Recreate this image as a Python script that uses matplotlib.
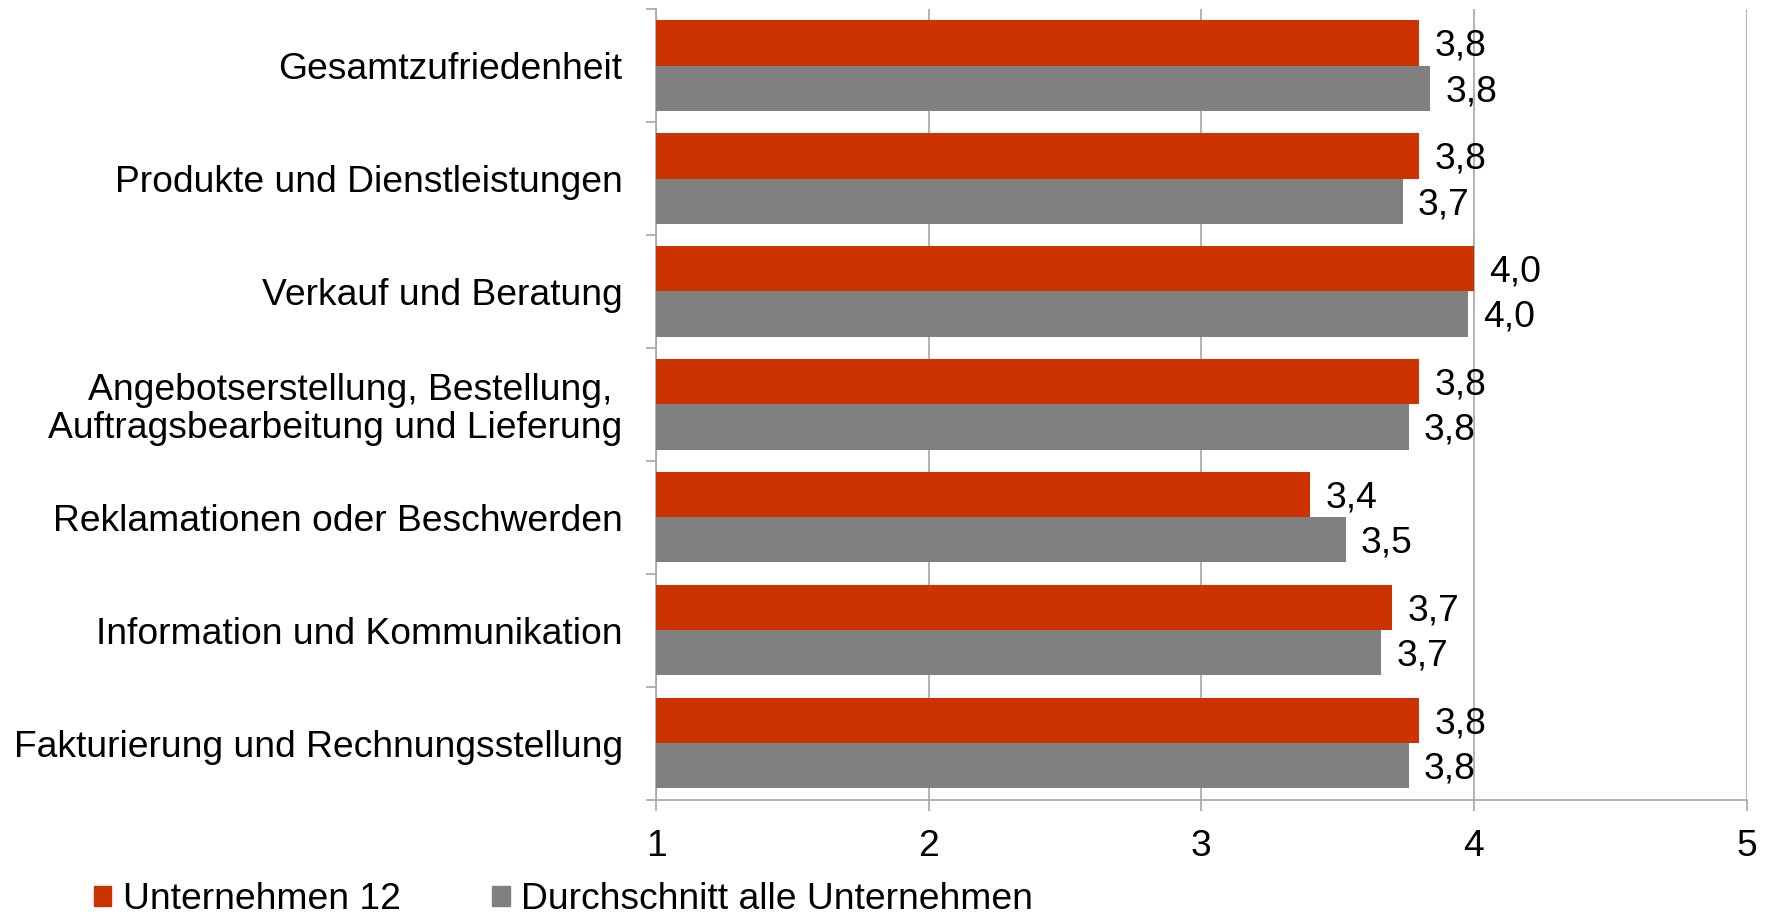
import matplotlib.pyplot as plt
import numpy as np
from matplotlib.patches import Patch

plt.rcParams['font.family'] = ['Liberation Sans', 'DejaVu Sans']

kategorien = [
    "Gesamtzufriedenheit",
    "Produkte und Dienstleistungen",
    "Verkauf und Beratung",
    "Angebotserstellung, Bestellung, \nAuftragsbearbeitung und Lieferung",
    "Reklamationen oder Beschwerden",
    "Information und Kommunikation",
    "Fakturierung und Rechnungsstellung",
]
unternehmen = [3.80, 3.80, 4.00, 3.80, 3.40, 3.70, 3.80]
durchschnitt = [3.84, 3.74, 3.98, 3.76, 3.53, 3.66, 3.76]

ROT = "#CC3300"
GRAU = "#808080"
LINIE = "#A6A6A6"
FS = 26.8

fig = plt.figure(figsize=(17.66, 9.19), dpi=100)
ax = fig.add_axes([0.3715, 0.13, 0.6175, 0.86])

y = np.arange(len(kategorien))
h = 0.4
ax.barh(y - h / 2, np.array(unternehmen) - 1, h, left=1, color=ROT, zorder=3)
ax.barh(y + h / 2, np.array(durchschnitt) - 1, h, left=1, color=GRAU, zorder=3)

# Werte neben den Balken
for i, (u, d) in enumerate(zip(unternehmen, durchschnitt)):
    ax.text(u + 0.055, i - h / 2 + 0.03, f"{u:.1f}".replace(".", ","),
            va="center", ha="left", fontsize=FS, zorder=4)
    ax.text(d + 0.055, i + h / 2 + 0.03, f"{d:.1f}".replace(".", ","),
            va="center", ha="left", fontsize=FS, zorder=4)

ax.set_xlim(1, 5)
ax.set_ylim(len(kategorien) - 0.5, -0.5)
ax.set_xticks([1, 2, 3, 4, 5])
ax.tick_params(axis="x", length=8, width=1.2, color=LINIE, labelsize=FS, pad=13)
ax.set_yticks(y)
ax.set_yticklabels(kategorien, fontsize=FS, linespacing=1.1)
ax.set_yticks(np.arange(-0.5, len(kategorien)), minor=True)
ax.tick_params(axis="y", which="major", length=0, pad=24)
ax.tick_params(axis="y", which="minor", length=7, width=1.2, color=LINIE)

ax.grid(axis="x", color=LINIE, linewidth=1.2, zorder=0)
for s in ["top", "right"]:
    ax.spines[s].set_visible(False)
for s in ["left", "bottom"]:
    ax.spines[s].set_color(LINIE)
    ax.spines[s].set_linewidth(1.2)

handles = [Patch(color=ROT, label="Unternehmen 12"),
           Patch(color=GRAU, label="Durchschnitt alle Unternehmen")]
fig.legend(handles=handles, loc="center left", bbox_to_anchor=(0.053, 0.021),
           ncol=2, frameon=False, fontsize=FS, handlelength=0.48,
           handleheight=0.48, handletextpad=0.3, columnspacing=2.45,
           borderpad=0, borderaxespad=0)

fig.savefig("out.png", dpi=100)
